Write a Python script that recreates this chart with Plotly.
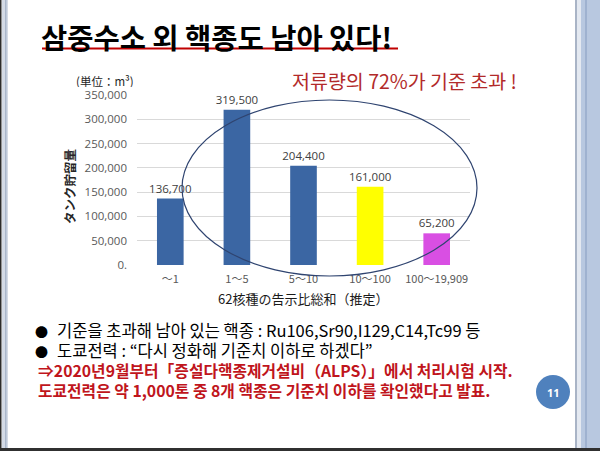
import plotly.graph_objects as go

# tank volume by sum of ratios to regulatory limits (62 nuclides)
categories = ["～1", "1～5", "5～10", "10～100", "100～19,909"]
volumes = [136700, 319500, 204400, 161000, 65200]
volume_labels = ["136,700", "319,500", "204,400", "161,000", "65,200"]
bar_colors = ["#3b66a3", "#3b66a3", "#3b66a3", "#ffff00", "#d94fe3"]

y_tick_vals = [0, 50000, 100000, 150000, 200000, 250000, 300000, 350000]
y_tick_text = ["0.", "50,000", "100,000", "150,000", "200,000", "250,000", "300,000", "350,000"]

title_text = "삼중수소 외 핵종도 남아 있다!"
callout_text = "저류량의 72%가 기준 초과 !"
bullet_lines = [
    "기준을 초과해 남아 있는 핵종 : Ru106,Sr90,I129,C14,Tc99 등",
    "도쿄전력 : “다시 정화해 기준치 이하로 하겠다”",
]
red_lines = [
    "⇒2020년9월부터「증설다핵종제거설비（ALPS）」에서 처리시험 시작.",
    "도쿄전력은 약 1,000톤 중 8개 핵종은 기준치 이하를 확인했다고 발표.",
]
page_no = "11"

W, H = 600, 451


def px(x):
    return x / W


def py(y):
    return 1 - y / H


KR = "Noto Sans CJK KR"
JP = "Noto Sans CJK JP"

fig = go.Figure()
fig.add_trace(go.Bar(
    x=categories, y=volumes,
    marker=dict(color=bar_colors, line=dict(width=0)),
    width=0.4,
    text=volume_labels, textposition="outside", constraintext="none",
    textfont=dict(family="Open Sans", size=11.5, color="#404040"),
    cliponaxis=False,
    hoverinfo="skip",
))

fig.update_layout(
    width=W, height=H,
    margin=dict(l=0, r=0, t=0, b=0, pad=0, autoexpand=False),
    paper_bgcolor="white", plot_bgcolor="rgba(0,0,0,0)",
    showlegend=False,
    bargap=0.6,
    xaxis=dict(
        domain=[px(137), px(470)],
        showgrid=False, showline=False, zeroline=False, automargin=False,
        tickfont=dict(family=JP, size=11, color="#595959"),
        ticklabelstandoff=6,
    ),
    yaxis=dict(
        domain=[py(265), py(95)],
        range=[0, 350000],
        tickvals=y_tick_vals, ticktext=y_tick_text,
        showgrid=True, gridcolor="#d9d9d9", gridwidth=1,
        showline=False, zeroline=False, automargin=False,
        tickfont=dict(family="Open Sans", size=11.5, color="#595959"),
        ticklabelstandoff=9,
    ),
)

shapes = [
    # slide frame
    dict(type="rect", xref="paper", yref="paper", x0=0, x1=px(1.5), y0=0, y1=1,
         fillcolor="#2b2b2b", line_width=0, layer="below"),
    dict(type="rect", xref="paper", yref="paper", x0=px(2), x1=px(8), y0=0, y1=1,
         fillcolor="#d3dae6", line_width=0, layer="below"),
    dict(type="rect", xref="paper", yref="paper", x0=px(5), x1=px(6.5), y0=0, y1=1,
         fillcolor="#a9b6ca", line_width=0, layer="below"),
    dict(type="rect", xref="paper", yref="paper", x0=px(575), x1=px(577), y0=0, y1=1,
         fillcolor="#a9b4c6", line_width=0, layer="below"),
    dict(type="rect", xref="paper", yref="paper", x0=px(577), x1=px(581), y0=0, y1=1,
         fillcolor="#e4e9f1", line_width=0, layer="below"),
    dict(type="rect", xref="paper", yref="paper", x0=px(581), x1=1, y0=0, y1=1,
         fillcolor="#b8c8e0", line_width=0, layer="below"),
    dict(type="rect", xref="paper", yref="paper", x0=px(585), x1=px(587), y0=0, y1=1,
         fillcolor="#9fb2d0", line_width=0, layer="below"),
    dict(type="rect", xref="paper", yref="paper", x0=0, x1=1, y0=0, y1=py(448),
         fillcolor="#303030", line_width=0, layer="below"),
    # title underline
    dict(type="line", xref="paper", yref="paper", x0=px(42), x1=px(398), y0=py(48.5), y1=py(48.5),
         line=dict(color="#c00000", width=2), layer="below"),
    # highlight ellipse
    dict(type="circle", xref="paper", yref="paper", x0=px(182), x1=px(477), y0=py(276), y1=py(100),
         line=dict(color="#2f4470", width=1.2)),
    # page number badge
    dict(type="circle", xref="paper", yref="paper", x0=px(536), x1=px(570), y0=py(409), y1=py(375),
         fillcolor="#4f81bd", line_width=0),
]
fig.update_layout(shapes=shapes)

# bullet block as one multi-line text (20px line pitch = 1.3 * 15.4)
bullet = "<span style='font-size:13px'>●</span><span style='font-size:9px'>\u3000</span>"
body_rows = [bullet + "<span style='font-size:16.5px'>" + t + "</span>" for t in bullet_lines]
body_rows += ["<span style='font-size:3px'>\u3000</span>"
              "<span style='font-size:15.8px;color:#c0151c'><b>" + t + "</b></span>" for t in red_lines]
body_text = "<br>".join(body_rows)

ann = []
ann.append(dict(text=title_text, x=px(40), y=py(36), xanchor="left", yanchor="middle",
                font=dict(family=KR, size=28.5, color="black", weight="bold")))
ann.append(dict(text=callout_text, x=px(291), y=py(81), xanchor="left", yanchor="middle",
                font=dict(family=KR, size=19.5, color="#b22a2a")))
ann.append(dict(text="(単位：m³)", x=px(75), y=py(81), xanchor="left", yanchor="middle",
                height=13, font=dict(family=JP, size=11.5, color="#262626")))
ann.append(dict(text="タンク貯留量", x=px(70), y=py(187), xanchor="center", yanchor="middle",
                textangle=-90, font=dict(family=JP, size=12.5, color="#262626", weight="bold")))
ann.append(dict(text="62核種の告示比総和（推定）", x=px(303), y=py(298), xanchor="center", yanchor="middle",
                height=15, font=dict(family=JP, size=13, color="#1a1a1a")))
ann.append(dict(text=body_text, x=px(34), y=py(360), xanchor="left", yanchor="middle", align="left",
                font=dict(family=KR, size=15.4, color="black")))
ann.append(dict(text=page_no, x=px(553), y=py(392), xanchor="center", yanchor="middle",
                font=dict(family="Open Sans", size=11, color="white", weight="bold")))

for a in ann:
    a.update(xref="paper", yref="paper", showarrow=False, borderpad=0)
fig.update_layout(annotations=ann)

# page CSS: no default margins or scrollbars around the 600x451 slide
page_css = (
    "document.documentElement.style.margin='0';"
    "document.documentElement.style.overflow='hidden';"
    "document.body.style.margin='0';"
    "document.body.style.overflow='hidden';"
)
fig.write_html("out.html", post_script=page_css, config={"displayModeBar": False})
